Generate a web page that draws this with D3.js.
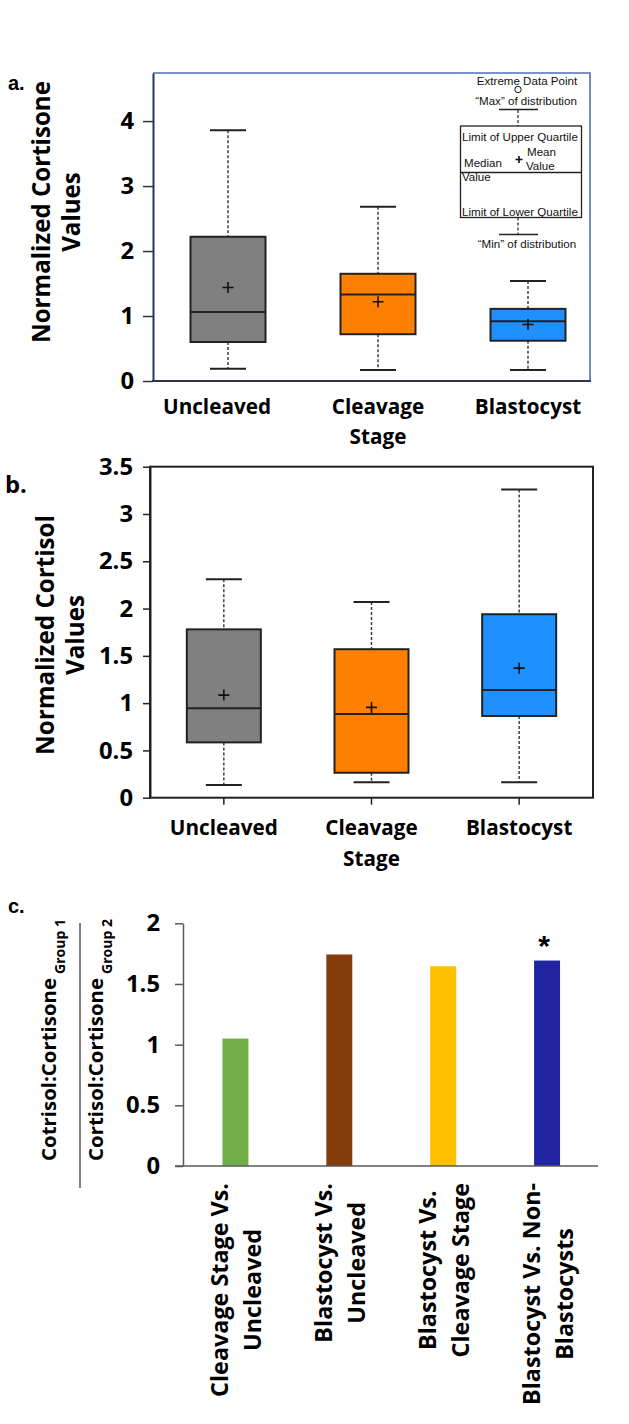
<!DOCTYPE html>
<html>
<head>
<meta charset="utf-8">
<script src="https://cdn.jsdelivr.net/npm/d3@7"></script>
<style>
  html, body { margin: 0; padding: 0; background: #fff; }
  svg { display: block; }
</style>
</head>
<body>
<div id="chart"></div>
<script>
// ---------------- DATA ----------------
const boxCategories = ["Uncleaved", "Cleavage Stage", "Blastocyst"];
const boxTickLines = [["Uncleaved"], ["Cleavage", "Stage"], ["Blastocyst"]];
const boxColors = ["#808080", "#ff8000", "#1e90ff"];

// Panel a: Normalized Cortisone
const cortisoneMin    = [0.19, 0.17, 0.17];
const cortisoneQ1     = [0.60, 0.72, 0.62];
const cortisoneMedian = [1.06, 1.33, 0.92];
const cortisoneQ3     = [2.22, 1.65, 1.11];
const cortisoneMax    = [3.86, 2.68, 1.54];
const cortisoneMean   = [1.44, 1.22, 0.87];
const cortisoneTicks  = [0, 1, 2, 3, 4];

// Panel b: Normalized Cortisol
const cortisolMin    = [0.134, 0.163, 0.163];
const cortisolQ1     = [0.585, 0.264, 0.864];
const cortisolMedian = [0.945, 0.885, 1.14];
const cortisolQ3     = [1.78, 1.57, 1.94];
const cortisolMax    = [2.31, 2.07, 3.26];
const cortisolMean   = [1.085, 0.955, 1.37];
const cortisolTicks  = [0, 0.5, 1, 1.5, 2, 2.5, 3, 3.5];

// Panel c: ratio of ratios
const ratioCategories = ["Cleavage Stage Vs. Uncleaved", "Blastocyst Vs. Uncleaved",
                         "Blastocyst Vs. Cleavage Stage", "Blastocyst Vs. Non-Blastocysts"];
const ratioTickLines = [["Cleavage Stage Vs.", "Uncleaved"], ["Blastocyst Vs.", "Uncleaved"],
                        ["Blastocyst Vs.", "Cleavage Stage"], ["Blastocyst Vs. Non-", "Blastocysts"]];
const ratioValues = [1.05, 1.743, 1.646, 1.693];
const ratioSignificance = ["", "", "", "*"];
const ratioColors = ["#70ad47", "#843c0c", "#ffc000", "#2125a0"];
const ratioTicks = [0, 0.5, 1, 1.5, 2];

// ---------------- SETUP ----------------
const W = 629, H = 1424;
const FONT = "'Open Sans', Lato, sans-serif";
const ARIAL = "'Liberation Sans', Arial, sans-serif";
const svg = d3.select("#chart").append("svg").attr("width", W).attr("height", H);

// font size that makes `str` about `target` px wide
function fit(str, target, family = FONT, weight = "bold") {
  const t = svg.append("text").attr("font-family", family).attr("font-weight", weight)
    .attr("font-size", 100).text(str);
  const w = t.node().getComputedTextLength();
  t.remove();
  return 100 * target / w;
}
const SZ_TICK = fit("1.5", 34);
const SZ_CAT = fit("Uncleaved", 108);
const SZ_YA = fit("Normalized Cortisone", 262);
const SZ_YB = fit("Normalized Cortisol", 240);
const SZ_CLAB = fit("Cleavage Stage Vs.", 214);
const SZ_CY = fit("Cotrisol:Cortisone", 183);
const SZ_CSUB = fit("Group 1", 55);
const SZ_KEY = fit("Limit of Upper Quartile", 116, ARIAL, "normal");

function boxData(min, q1, med, q3, max, mean) {
  return boxCategories.map((c, i) => ({ cat: c, min: min[i], q1: q1[i], med: med[i], q3: q3[i], max: max[i], mean: mean[i], color: boxColors[i], lines: boxTickLines[i] }));
}

function drawBoxes(g, data, x, y, boxW, capW) {
  const gg = g.selectAll("g.box").data(data).join("g").attr("class", "box")
    .attr("transform", d => `translate(${x(d.cat) + x.bandwidth() / 2},0)`);
  gg.append("line").attr("x1", 0).attr("x2", 0).attr("y1", d => y(d.max)).attr("y2", d => y(d.q3))
    .attr("stroke", "#333").attr("stroke-width", 1.4).attr("stroke-dasharray", "3,2");
  gg.append("line").attr("x1", 0).attr("x2", 0).attr("y1", d => y(d.q1)).attr("y2", d => y(d.min))
    .attr("stroke", "#333").attr("stroke-width", 1.4).attr("stroke-dasharray", "3,2");
  gg.append("line").attr("x1", -capW / 2).attr("x2", capW / 2).attr("y1", d => y(d.max)).attr("y2", d => y(d.max))
    .attr("stroke", "#222").attr("stroke-width", 2);
  gg.append("line").attr("x1", -capW / 2).attr("x2", capW / 2).attr("y1", d => y(d.min)).attr("y2", d => y(d.min))
    .attr("stroke", "#222").attr("stroke-width", 2);
  gg.append("rect").attr("x", -boxW / 2).attr("width", boxW)
    .attr("y", d => y(d.q3)).attr("height", d => y(d.q1) - y(d.q3))
    .attr("fill", d => d.color).attr("stroke", "#222").attr("stroke-width", 2);
  gg.append("line").attr("x1", -boxW / 2).attr("x2", boxW / 2).attr("y1", d => y(d.med)).attr("y2", d => y(d.med))
    .attr("stroke", "#222").attr("stroke-width", 2);
  gg.append("path").attr("d", d => `M-5.5,${y(d.mean)}h11M0,${y(d.mean) - 5.5}v11`)
    .attr("stroke", "#111").attr("stroke-width", 1.6).attr("fill", "none");
}

function styleTickText(axisG, size) {
  axisG.selectAll("text").attr("font-family", FONT).attr("font-weight", "bold")
    .attr("font-size", size).attr("fill", "#000");
}

function catLabels(g, data, x, y0, size, lineH) {
  const t = g.selectAll("text.cat").data(data).join("text").attr("class", "cat")
    .attr("text-anchor", "middle").attr("font-family", FONT).attr("font-weight", "bold")
    .attr("font-size", size).attr("fill", "#000");
  t.selectAll("tspan").data(d => d.lines.map(l => ({ l, d }))).join("tspan")
    .attr("x", o => x(o.d.cat) + x.bandwidth() / 2)
    .attr("y", (o, i) => y0 + i * lineH).text(o => o.l);
}

function rotatedLabel(cy, lines, baselines, size) {
  const t = svg.append("text").attr("transform", `translate(0,${cy}) rotate(-90)`)
    .attr("text-anchor", "middle").attr("font-family", FONT).attr("font-weight", "bold")
    .attr("font-size", size).attr("fill", "#000");
  lines.forEach((l, i) => t.append("tspan").attr("x", 0).attr("y", baselines[i]).text(l));
}

// ---------------- PANEL A ----------------
{
  const g = svg.append("g");
  const x = d3.scaleBand().domain(boxCategories).range([153, 603]);
  const y = d3.scaleLinear().domain([0, 4.74]).range([381, 73]);
  g.append("path").attr("d", `M153,${y(4.74)}H590V${y(0)}`).attr("fill", "none")
    .attr("stroke", "#4f72b0").attr("stroke-width", 1.6);
  const ax = g.append("g").attr("transform", "translate(153,0)")
    .call(d3.axisLeft(y).tickValues(cortisoneTicks).tickFormat(d => String(d)).tickSize(10).tickSizeOuter(0).tickPadding(9));
  ax.select(".domain").attr("stroke", "#1f3864").attr("stroke-width", 2);
  ax.selectAll(".tick line").attr("stroke", "#333").attr("stroke-width", 1.5);
  styleTickText(ax, SZ_TICK);
  g.append("line").attr("x1", 152).attr("x2", 591).attr("y1", y(0)).attr("y2", y(0))
    .attr("stroke", "#2b3550").attr("stroke-width", 2);
  const data = boxData(cortisoneMin, cortisoneQ1, cortisoneMedian, cortisoneQ3, cortisoneMax, cortisoneMean);
  drawBoxes(g, data, x, y, 75, 36);
  catLabels(g, data, x, 414, SZ_CAT, 30);
  // the first category label sits a little left of its box in the original
  g.selectAll("text.cat").filter((d, i) => i === 0).selectAll("tspan").attr("dx", -11);

  // legend key
  const L = g.append("g").attr("font-family", ARIAL).attr("font-size", SZ_KEY).attr("fill", "#111");
  const lx = 518;
  L.append("text").attr("x", 527).attr("y", 84.5).attr("text-anchor", "middle").text("Extreme Data Point");
  L.append("circle").attr("cx", lx).attr("cy", 89.5).attr("r", 3.2).attr("fill", "none").attr("stroke", "#111").attr("stroke-width", 1);
  L.append("text").attr("x", 526).attr("y", 104.5).attr("text-anchor", "middle").text("\u201cMax\u201d of distribution");
  L.append("line").attr("x1", 499).attr("x2", 538).attr("y1", 109.5).attr("y2", 109.5).attr("stroke", "#222").attr("stroke-width", 1.3);
  L.append("line").attr("x1", lx).attr("x2", lx).attr("y1", 110).attr("y2", 126).attr("stroke", "#222").attr("stroke-width", 1.2).attr("stroke-dasharray", "3,2");
  L.append("rect").attr("x", 460.5).attr("y", 126).attr("width", 121).attr("height", 91.5).attr("fill", "#fff").attr("stroke", "#222").attr("stroke-width", 1.3);
  L.append("line").attr("x1", 460.5).attr("x2", 581.5).attr("y1", 172.5).attr("y2", 172.5).attr("stroke", "#222").attr("stroke-width", 1.3);
  L.append("line").attr("x1", lx).attr("x2", lx).attr("y1", 217.5).attr("y2", 234).attr("stroke", "#222").attr("stroke-width", 1.2).attr("stroke-dasharray", "3,2");
  L.append("line").attr("x1", 499).attr("x2", 538).attr("y1", 234.5).attr("y2", 234.5).attr("stroke", "#222").attr("stroke-width", 1.3);
  L.append("text").attr("x", 527).attr("y", 248).attr("text-anchor", "middle").text("\u201cMin\u201d of distribution");
  L.append("text").attr("x", 462).attr("y", 140.5).text("Limit of Upper Quartile");
  L.append("text").attr("x", 527).attr("y", 155.5).text("Mean");
  L.append("text").attr("x", 526).attr("y", 169.5).text("Value");
  L.append("text").attr("x", 464).attr("y", 167).text("Median");
  L.append("text").attr("x", 462).attr("y", 181).text("Value");
  L.append("path").attr("d", "M515.5,159.5h7M519,156v7").attr("stroke", "#111").attr("stroke-width", 1.6);
  L.append("text").attr("x", 462).attr("y", 216).text("Limit of Lower Quartile");

  svg.append("text").attr("x", 8).attr("y", 90).attr("font-family", ARIAL).attr("font-weight", "bold")
    .attr("font-size", 20).text("a.");
  rotatedLabel(212, ["Normalized Cortisone", "Values"], [50, 80], SZ_YA);
}

// ---------------- PANEL B ----------------
{
  const g = svg.append("g");
  const x = d3.scaleBand().domain(boxCategories).range([150, 593]);
  const y = d3.scaleLinear().domain([0, 3.5]).range([797.7, 466.7]);
  g.append("rect").attr("x", 150).attr("y", y(3.5)).attr("width", 443).attr("height", y(0) - y(3.5))
    .attr("fill", "none").attr("stroke", "#222").attr("stroke-width", 2);
  const ax = g.append("g").attr("transform", "translate(150,0)")
    .call(d3.axisLeft(y).tickValues(cortisolTicks).tickFormat(d => String(d)).tickSize(7).tickSizeOuter(0).tickPadding(10));
  ax.select(".domain").attr("stroke", "#222").attr("stroke-width", 2);
  ax.selectAll(".tick line").attr("stroke", "#222").attr("stroke-width", 1.5);
  styleTickText(ax, SZ_TICK);
  const bx = g.append("g").attr("transform", `translate(0,${y(0)})`)
    .call(d3.axisBottom(x).tickSize(7).tickSizeOuter(0).tickFormat(""));
  bx.select(".domain").remove();
  bx.selectAll(".tick line").attr("stroke", "#222").attr("stroke-width", 1.5);
  const data = boxData(cortisolMin, cortisolQ1, cortisolMedian, cortisolQ3, cortisolMax, cortisolMean);
  drawBoxes(g, data, x, y, 74, 36);
  catLabels(g, data, x, 835, SZ_CAT, 31);
  svg.append("text").attr("x", 5).attr("y", 493).attr("font-family", FONT).attr("font-weight", "bold")
    .attr("font-size", SZ_TICK).text("b.");
  rotatedLabel(635, ["Normalized Cortisol", "Values"], [54, 84], SZ_YB);
}

// ---------------- PANEL C ----------------
{
  const g = svg.append("g");
  const x = d3.scaleBand().domain(ratioCategories).range([183.5, 599]).paddingInner(0.75).paddingOuter(0.375);
  const y = d3.scaleLinear().domain([0, 2]).range([1166, 923.3]);
  g.selectAll("rect.bar").data(ratioValues).join("rect").attr("class", "bar")
    .attr("x", (d, i) => x(ratioCategories[i])).attr("width", x.bandwidth())
    .attr("y", d => y(d)).attr("height", d => y(0) - y(d))
    .attr("fill", (d, i) => ratioColors[i]);
  g.selectAll("text.sig").data(ratioValues).join("text").attr("class", "sig")
    .attr("x", (d, i) => x(ratioCategories[i]) + x.bandwidth() / 2 - 3)
    .attr("y", d => y(d) - 5).attr("text-anchor", "middle")
    .attr("font-family", ARIAL).attr("font-weight", "bold").attr("font-size", 30)
    .text((d, i) => ratioSignificance[i]);
  const ax = g.append("g").attr("transform", "translate(183,0)")
    .call(d3.axisLeft(y).tickValues(ratioTicks).tickFormat(d => String(d)).tickSize(8).tickSizeOuter(0).tickPadding(15));
  ax.select(".domain").attr("stroke", "#595959").attr("stroke-width", 1.5);
  ax.selectAll(".tick line").attr("stroke", "#595959").attr("stroke-width", 1.5);
  styleTickText(ax, SZ_TICK);
  g.append("line").attr("x1", 175).attr("x2", 598).attr("y1", y(0)).attr("y2", y(0))
    .attr("stroke", "#595959").attr("stroke-width", 1.5);

  // rotated multi-line category labels, lines centred on the widest line
  const lab = g.selectAll("g.clab").data(ratioCategories).join("g").attr("class", "clab")
    .attr("transform", d => `translate(${x(d) + x.bandwidth() / 2},1183) rotate(-90)`);
  lab.each(function (d, i) {
    const gl = d3.select(this);
    const ts = ratioTickLines[i].map((l, j) => gl.append("text").attr("font-family", FONT)
      .attr("font-weight", "bold").attr("font-size", SZ_CLAB).attr("text-anchor", "middle")
      .attr("y", j === 0 ? -7 : 26).text(l));
    const maxW = d3.max(ts, t => t.node().getComputedTextLength());
    ts.forEach(t => t.attr("x", -maxW / 2));
  });

  svg.append("text").attr("x", 8).attr("y", 913).attr("font-family", ARIAL).attr("font-weight", "bold")
    .attr("font-size", 20).text("c.");

  // fraction y label
  const yl = svg.append("g").attr("transform", "translate(0,1040) rotate(-90)")
    .attr("font-family", FONT).attr("font-weight", "bold").attr("fill", "#000");
  const t1 = yl.append("text").attr("y", 56).attr("text-anchor", "middle").attr("font-size", SZ_CY);
  t1.append("tspan").text("Cotrisol:Cortisone");
  t1.append("tspan").attr("font-size", SZ_CSUB).attr("dy", 9).attr("dx", 4).text("Group 1");
  const t2 = yl.append("text").attr("y", 103).attr("text-anchor", "middle").attr("font-size", SZ_CY);
  t2.append("tspan").text("Cortisol:Cortisone");
  t2.append("tspan").attr("font-size", SZ_CSUB).attr("dy", 9).attr("dx", 4).text("Group 2");
  svg.append("line").attr("x1", 80).attr("x2", 80).attr("y1", 923).attr("y2", 1188)
    .attr("stroke", "#595959").attr("stroke-width", 1.5);
}
</script>
</body>
</html>
